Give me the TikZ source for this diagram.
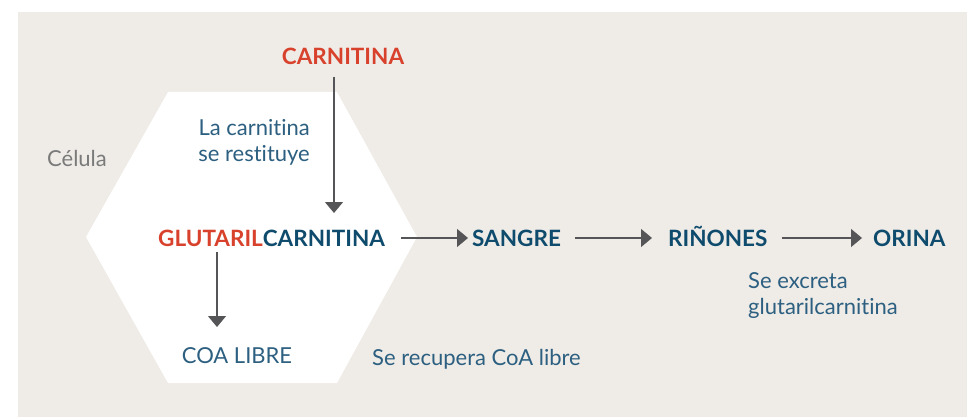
\documentclass[tikz,border=0pt]{standalone}
\usepackage{fontspec}
\setmainfont{Lato}[Ligatures={NoCommon,NoRare}]
\usetikzlibrary{arrows.meta}
\definecolor{bgc}{HTML}{EFECE8}
\definecolor{redc}{HTML}{D8412B}
\definecolor{blued}{HTML}{0F4B6C}
\definecolor{bluel}{HTML}{2C5F80}
\definecolor{grayt}{HTML}{7A7A7A}
\definecolor{arrc}{HTML}{555558}
\tikzset{
  bold/.style={font=\fontsize{22.5}{24}\selectfont\bfseries, text=blued, inner sep=0pt},
  note/.style={font=\fontsize{22}{26}\selectfont, text=bluel, inner sep=0pt},
  arr/.style={draw=arrc, line width=1.1pt, -{Triangle[width=18pt,length=11pt]}},
}
\begin{document}
\begin{tikzpicture}[x=1pt,y=-1pt]
\useasboundingbox (0,0) rectangle (967,417);
\fill[bgc] (18,12) rectangle (967,417);
\fill[white] (86,237) -- (168,92) -- (337,92) -- (417,237) -- (337,383) -- (168,383) -- cycle;
\node[bold, text=redc, anchor=base] (carn) at (343,65) {CARNITINA};
\node[note, align=right, anchor=base east] (rest) at (310,162) {La carnitina\\se restituye};
\node[note, text=grayt, anchor=base] (cel) at (77,167) {Célula};
\node[bold, anchor=base west] (glut) at (158,246) {\textcolor{redc}{GLUTARIL}CARNITINA};
\coordinate (gl) at (217,252);
\coordinate (glend) at (217,327);
\coordinate (ay) at (0,238);
\node[note, anchor=base] (coa) at (237,363) {COA LIBRE};
\node[note, anchor=base west] (recup) at (372,365) {Se recupera CoA libre};
\node[bold, anchor=base west] (sangre) at (472,246) {SANGRE};
\node[bold, anchor=base west] (rin) at (668,246) {RIÑONES};
\node[bold, anchor=base west] (orina) at (873,246) {ORINA};
\node[note, align=left, anchor=base west] (excr) at (748,314) {Se excreta\\glutarilcarnitina};
\coordinate (ctop) at (334,77);
\coordinate (cbot) at (334,213);
\draw[arr] (ctop) -- (cbot);
\draw[arr] (gl) -- (glend);
\draw[arr] ([xshift=16pt]glut.east |- ay) -- ([xshift=-4pt]sangre.west |- ay);
\draw[arr] ([xshift=14pt]sangre.east |- ay) -- ([xshift=-16pt]rin.west |- ay);
\draw[arr] ([xshift=14pt]rin.east |- ay) -- ([xshift=-11pt]orina.west |- ay);
\end{tikzpicture}
\end{document}
